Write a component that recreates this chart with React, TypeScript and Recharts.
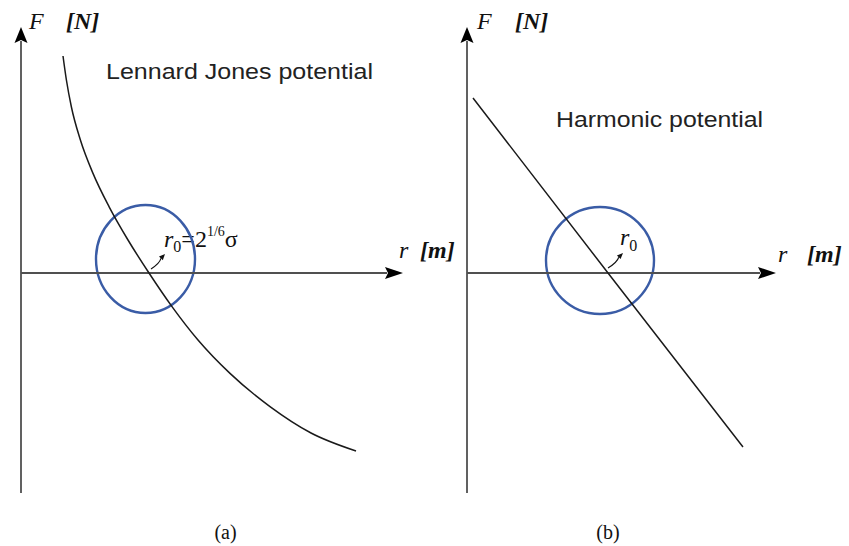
import React from 'react';
import { ComposedChart, Line, XAxis, YAxis, ReferenceLine, ReferenceArea } from 'recharts';

// ---- Data (chart units: r along the horizontal axis, F along the vertical axis) ----
const ljR = [2.1, 2.27, 2.52, 2.97, 3.6, 4.4, 5.35, 6.4, 7.55, 8.85, 10.45, 12.45, 14.5, 16.75];
const ljF = [10.85, 9.65, 8.3, 6.65, 4.98, 3.32, 1.65, 0, -1.68, -3.35, -5.02, -6.68, -8.0, -8.9];

const harmR = [0.3, 7.05, 13.8];
const harmF = [8.75, 0, -8.7];

// axis extents [rEnd, fTop, fBottom]
const ljAxis = [19.1, 12.3, -11];
const harmAxis = [15.45, 12.3, -11];

// highlighted region around r0: [rMin, rMax, fMin, fMax]
const ljCircle = [3.75, 8.7, -2.0, 3.4];
const harmCircle = [3.95, 9.35, -2.05, 3.3];

// r0 pointer arrows: [rStart, fStart, rEnd, fEnd]
const ljPointer = [6.5, 0.2, 7.2, 0.95];
const harmPointer = [7.05, 0.25, 7.8, 1.0];

const panelTitles = ['Lennard Jones potential', 'Harmonic potential'];
const panelLetters = ['(a)', '(b)'];

const ljData = ljR.map((r, i) => ({ r, F: ljF[i] }));
const harmData = harmR.map((r, i) => ({ r, F: harmF[i] }));

const AXIS_COLOR = '#505050';
const CURVE_COLOR = '#1a1a1a';
const BLUE = '#3a5ca6';
const SERIF = '"Liberation Serif", "DejaVu Serif", serif';
const SANS = '"Liberation Sans", Arial, sans-serif';

const axisArrow = (len: number, half: number) => (p: any) => {
  const { x1, y1, x2, y2 } = p;
  const dx = x2 - x1;
  const dy = y2 - y1;
  const L = Math.hypot(dx, dy) || 1;
  const ux = dx / L;
  const uy = dy / L;
  const bx = x2 - ux * len;
  const by = y2 - uy * len;
  const px = -uy;
  const py = ux;
  return (
    <g>
      <line x1={x1} y1={y1} x2={bx + ux * 2} y2={by + uy * 2} stroke={AXIS_COLOR} strokeWidth={1.8} />
      <polygon
        points={`${x2},${y2} ${bx + px * half},${by + py * half} ${bx + ux * 3},${by + uy * 3} ${bx - px * half},${by - py * half}`}
        fill="#000"
      />
    </g>
  );
};

const pointerArrow = (p: any) => {
  const { x1, y1, x2, y2 } = p;
  const dx = x2 - x1;
  const dy = y2 - y1;
  const L = Math.hypot(dx, dy) || 1;
  const ux = dx / L;
  const uy = dy / L;
  const len = 6;
  const half = 2.6;
  const bx = x2 - ux * len;
  const by = y2 - uy * len;
  const px = -uy;
  const py = ux;
  const cx = (x1 + x2) / 2 + px * 2.5;
  const cy = (y1 + y2) / 2 + py * 2.5;
  return (
    <g>
      <path d={`M${x1},${y1} Q${cx},${cy} ${bx},${by}`} fill="none" stroke="#111" strokeWidth={1.1} />
      <polygon
        points={`${x2},${y2} ${bx + px * half},${by + py * half} ${bx - px * half},${by - py * half}`}
        fill="#111"
      />
    </g>
  );
};

const ellipseShape = (p: any) => {
  const { x, y, width, height } = p;
  return (
    <ellipse
      cx={x + width / 2}
      cy={y + height / 2}
      rx={Math.abs(width) / 2}
      ry={Math.abs(height) / 2}
      fill="none"
      stroke={BLUE}
      strokeWidth={2.4}
    />
  );
};

type PanelProps = {
  width: number;
  xDomain: [number, number];
  data: { r: number; F: number }[];
  curveType: 'monotone' | 'linear';
  axis: number[];
  circle: number[];
  pointer: number[];
  children?: React.ReactNode;
};

function Panel({ width, xDomain, data, curveType, axis, circle, pointer, children }: PanelProps) {
  return (
    <ComposedChart width={width} height={546} margin={{ top: 0, right: 0, bottom: 0, left: 0 }}>
      <XAxis type="number" dataKey="r" domain={xDomain} allowDataOverflow hide />
      <YAxis type="number" dataKey="F" domain={[-13.65, 13.65]} allowDataOverflow hide />
      <ReferenceLine
        segment={[{ x: 0, y: axis[2] }, { x: 0, y: axis[1] }]}
        shape={axisArrow(16, 6.5)}
        ifOverflow="visible"
      />
      <ReferenceLine
        segment={[{ x: 0, y: 0 }, { x: axis[0], y: 0 }]}
        shape={axisArrow(18, 6)}
        ifOverflow="visible"
      />
      <ReferenceArea
        x1={circle[0]}
        x2={circle[1]}
        y1={circle[2]}
        y2={circle[3]}
        shape={ellipseShape}
        ifOverflow="visible"
      />
      <Line
        data={data}
        dataKey="F"
        type={curveType}
        stroke={CURVE_COLOR}
        strokeWidth={1.5}
        dot={false}
        activeDot={false}
        isAnimationActive={false}
      />
      <ReferenceLine
        segment={[{ x: pointer[0], y: pointer[1] }, { x: pointer[2], y: pointer[3] }]}
        shape={pointerArrow}
        ifOverflow="visible"
      />
      {children}
    </ComposedChart>
  );
}

export default function App() {
  return (
    <div
      style={{
        position: 'absolute',
        left: 0,
        top: 0,
        width: 849,
        height: 546,
        background: '#fff',
      }}
    >
      <div style={{ position: 'absolute', left: 0, top: 0 }}>
        <Panel
          width={470}
          xDomain={[-1.05, 22.45]}
          data={ljData}
          curveType="monotone"
          axis={ljAxis}
          circle={ljCircle}
          pointer={ljPointer}
        >
          <g>
            <text x={29} y={29} fontFamily={SERIF} fontStyle="italic" fontSize={24} fill="#111">F</text>
            <text x={66} y={29} fontFamily={SERIF} fontStyle="italic" fontWeight="bold" fontSize={24} fill="#111">[N]</text>
            <text x={106} y={79} fontFamily={SANS} fontSize={22} fill="#222" textLength={267} lengthAdjust="spacingAndGlyphs">
              {panelTitles[0]}
            </text>
            <text x={164} y={247} fontFamily={SERIF} fontSize={24} fill="#111">
              <tspan fontStyle="italic">r</tspan>
              <tspan fontSize={16} dy={5}>0</tspan>
              <tspan dy={-5}>=2</tspan>
              <tspan fontSize={14} dy={-11}>1/6</tspan>
              <tspan dy={11}>σ</tspan>
            </text>
            <text x={399} y={258} fontFamily={SERIF} fontStyle="italic" fontSize={24} fill="#111">r</text>
            <text x={420} y={258} fontFamily={SERIF} fontStyle="italic" fontWeight="bold" fontSize={24} fill="#111">[m]</text>
            <text x={225.5} y={539} fontFamily={SERIF} fontSize={20} textAnchor="middle" fill="#111">
              {panelLetters[0]}
            </text>
          </g>
        </Panel>
      </div>
      <div style={{ position: 'absolute', left: 430, top: 0 }}>
        <Panel
          width={419}
          xDomain={[-1.85, 19.1]}
          data={harmData}
          curveType="linear"
          axis={harmAxis}
          circle={harmCircle}
          pointer={harmPointer}
        >
          <g>
            <text x={47} y={29} fontFamily={SERIF} fontStyle="italic" fontSize={24} fill="#111">F</text>
            <text x={85} y={29} fontFamily={SERIF} fontStyle="italic" fontWeight="bold" fontSize={24} fill="#111">[N]</text>
            <text x={126} y={127} fontFamily={SANS} fontSize={22} fill="#222" textLength={207} lengthAdjust="spacingAndGlyphs">
              {panelTitles[1]}
            </text>
            <text x={190} y={245} fontFamily={SERIF} fontSize={24} fill="#111">
              <tspan fontStyle="italic">r</tspan>
              <tspan fontSize={16} dy={6}>0</tspan>
            </text>
            <text x={348} y={262} fontFamily={SERIF} fontStyle="italic" fontSize={24} fill="#111">r</text>
            <text x={377} y={262} fontFamily={SERIF} fontStyle="italic" fontWeight="bold" fontSize={24} fill="#111">[m]</text>
            <text x={178} y={539} fontFamily={SERIF} fontSize={20} textAnchor="middle" fill="#111">
              {panelLetters[1]}
            </text>
          </g>
        </Panel>
      </div>
    </div>
  );
}
